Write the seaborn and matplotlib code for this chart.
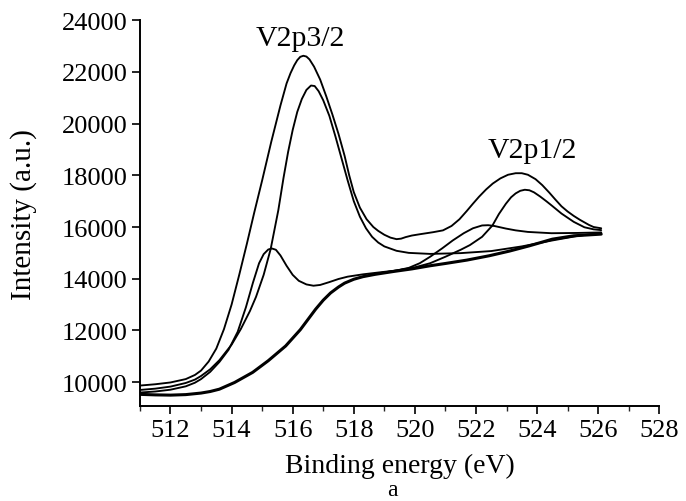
import numpy as np
import pandas as pd
import matplotlib
matplotlib.use("Agg")
import matplotlib.pyplot as plt
import seaborn as sns

# ---- data ----
env_E = [511.0, 511.5, 512.0, 512.5, 512.8, 513.0, 513.25, 513.5, 513.75, 514.0, 514.25, 514.5,
         514.74, 515.0, 515.3, 515.6, 515.8, 515.93, 516.05, 516.15, 516.25, 516.35, 516.45,
         516.55, 516.7, 516.9, 517.1, 517.3, 517.5, 517.7, 517.85, 518.0, 518.2, 518.42,
         518.64, 518.8, 519.0, 519.2, 519.4, 519.55, 519.7, 519.9, 520.16, 520.6, 520.92,
         521.2, 521.46, 521.7, 521.9, 522.1, 522.33, 522.55, 522.8, 523.05, 523.3, 523.5,
         523.7, 523.95, 524.17, 524.4, 524.6, 524.8, 525.0, 525.2, 525.4, 525.55, 525.7,
         525.85, 526.1]
env_I = [9870, 9920, 9990, 10120, 10280, 10450, 10800, 11300, 12050, 13000, 14150, 15350,
         16550, 17800, 19300, 20700, 21550, 21950, 22250, 22450, 22580, 22620, 22590,
         22480, 22200, 21700, 21050, 20350, 19600, 18750, 18000, 17350, 16750, 16300,
         16000, 15850, 15700, 15590, 15530, 15550, 15610, 15670, 15720, 15800, 15870,
         16040, 16300, 16620, 16900, 17170, 17450, 17680, 17880, 18020, 18080, 18080,
         18020, 17850, 17620, 17330, 17060, 16800, 16600, 16430, 16280, 16180, 16080,
         16000, 15950]

v5a_E = [511.0, 511.5, 512.0, 512.5, 512.8, 513.0, 513.3, 513.6, 514.0, 514.3, 514.6, 514.8,
         515.05, 515.28, 515.53, 515.7, 515.85, 516.0, 516.15, 516.3, 516.45, 516.6, 516.72,
         516.85, 517.0, 517.2, 517.4, 517.6, 517.8, 518.0, 518.2, 518.4, 518.6, 518.8,
         519.0, 519.4, 519.8, 520.5, 521.5, 522.5, 523.5, 524.5, 525.3, 526.1]
v5a_I = [9700, 9750, 9830, 9970, 10100, 10240, 10500, 10850, 11450, 12050, 12750, 13300,
         14150, 15150, 16650, 17900, 18900, 19750, 20450, 20950, 21300, 21470, 21450,
         21250, 20900, 20300, 19500, 18650, 17800, 17000, 16400, 15950, 15620, 15400,
         15250, 15080, 15000, 14960, 14990, 15070, 15250, 15480, 15650, 15780]

v4_E = [511.0, 511.5, 512.0, 512.5, 512.8, 513.0, 513.3, 513.6, 513.9, 514.2, 514.47, 514.7,
        514.9, 515.05, 515.2, 515.32, 515.45, 515.6, 515.8, 516.0, 516.2, 516.45, 516.68,
        516.9, 517.2, 517.5, 517.8, 518.3, 518.8, 519.4, 519.8, 520.16, 520.5, 520.9,
        521.24, 521.6, 521.9, 522.2, 522.4, 522.6, 522.98, 523.3, 523.7, 524.47, 525.3, 526.1]
v4_I = [9600, 9640, 9710, 9840, 9980, 10120, 10400, 10780, 11250, 11950, 12900, 13850,
        14600, 14950, 15130, 15170, 15120, 14900, 14500, 14150, 13920, 13780, 13730,
        13760, 13870, 13990, 14080, 14170, 14240, 14320, 14420, 14600, 14850, 15180,
        15480, 15760, 15950, 16060, 16070, 16040, 15940, 15870, 15810, 15760, 15770, 15790]

v5b_E = [518.5, 519.0, 519.5, 520.0, 520.5, 521.0, 521.5, 521.8, 522.2, 522.54, 522.75, 522.98,
         523.15, 523.3, 523.45, 523.6, 523.75, 523.9, 524.1, 524.3, 524.47, 524.8, 525.2,
         525.55, 525.85, 526.1]
v5b_I = [14140, 14240, 14340, 14440, 14600, 14850, 15120, 15300, 15620, 16060, 16500, 16900,
         17150, 17300, 17400, 17440, 17420, 17340, 17180, 17000, 16840, 16520, 16200,
         15990, 15910, 15880]

base_E = [511.0, 511.5, 512.0, 512.5, 513.0, 513.3, 513.6, 514.1, 514.69, 515.2, 515.77, 516.25,
          516.75, 517.0, 517.24, 517.5, 517.7, 518.0, 518.3, 518.7, 519.3, 519.9, 520.49,
          521.0, 521.7, 522.44, 523.1, 523.74, 524.5, 525.2, 526.1]
base_I = [9530, 9510, 9500, 9520, 9580, 9640, 9730, 9990, 10380, 10830, 11400, 12030,
          12820, 13170, 13450, 13680, 13830, 13980, 14080, 14170, 14280, 14380, 14500,
          14590, 14720, 14890, 15070, 15270, 15530, 15660, 15725]

x_ticks = [512, 514, 516, 518, 520, 522, 524, 526, 528]
y_ticks = [10000, 12000, 14000, 16000, 18000, 20000, 22000, 24000]
peak_labels = ["V2p3/2", "V2p1/2"]
peak_label_E = [516.25, 523.83]
peak_label_I = [23300, 18970]

sns.set_theme(style="ticks")
plt.rcParams["font.family"] = ["Liberation Serif", "DejaVu Serif"]

fig = plt.figure(figsize=(6.86, 5.02), dpi=100)
ax = fig.add_axes([0.204, 0.189, 0.757, 0.769])

curves = [(env_E, env_I, 1.35), (v5a_E, v5a_I, 1.35), (v4_E, v4_I, 1.35),
          (v5b_E, v5b_I, 1.35), (base_E, base_I, 2.2)]
for E, I, lw in curves:
    df = pd.DataFrame({"E": E, "I": I})
    sns.lineplot(data=df, x="E", y="I", ax=ax, color="black", linewidth=lw,
                 estimator=None, sort=False, solid_joinstyle="round")

for t, e, i in zip(peak_labels, peak_label_E, peak_label_I):
    ax.text(e, i, t, ha="center", va="center", fontsize=21.5, color="black")

ax.set_xlim(511, 528)
ax.set_xticks(x_ticks)
ax.set_yticks(y_ticks)
ax.set_xticks(np.arange(511, 528, 2), minor=True)
ax.set_yticks(np.arange(9000, 24001, 2000) + 1000, minor=True)
ax.set_ylim(9075, 24000)
ax.tick_params(axis="both", which="major", direction="out", length=6, width=1.2,
               labelsize=19, colors="black", pad=3)
ax.tick_params(axis="both", which="minor", direction="out", length=3.5, width=1.0)
for s in ["top", "right"]:
    ax.spines[s].set_visible(False)
for s in ["left", "bottom"]:
    ax.spines[s].set_linewidth(1.4)
    ax.spines[s].set_color("black")

ax.set_xlabel("Binding energy (eV)", fontsize=20, color="black", labelpad=9)
ax.set_ylabel("Intensity (a.u.)", fontsize=21, color="black", labelpad=18)
fig.text(0.572, 0.022, "a", fontsize=17, ha="center", va="center", color="black")

fig.savefig("out.png", dpi=100, facecolor="white")
